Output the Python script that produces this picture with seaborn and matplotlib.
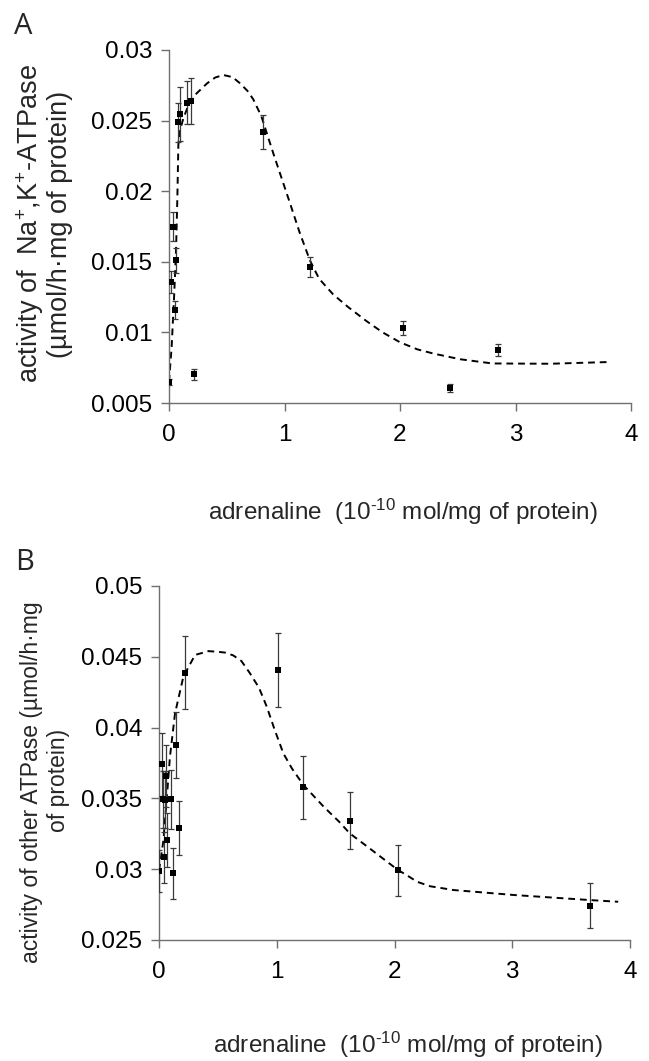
import numpy as np
import pandas as pd
import matplotlib
matplotlib.use("Agg")
import matplotlib.pyplot as plt
import seaborn as sns
from matplotlib.ticker import FormatStrFormatter, MultipleLocator

# Panel A - Na+,K+-ATPase: measured points
a_x = [0.0, 0.020, 0.032, 0.049, 0.061, 0.075, 0.095, 0.153, 0.188, 0.22, 0.817, 1.22, 2.03, 2.43, 2.845]
a_y = [0.0065, 0.01357, 0.0175, 0.01159, 0.0151, 0.02488, 0.02547, 0.02627, 0.02639, 0.00703, 0.02417, 0.01461, 0.0103, 0.00606, 0.00875]
a_err = [0.0002, 0.00077, 0.001, 0.00065, 0.00086, 0.0014, 0.0019, 0.0015, 0.0016, 0.0004, 0.0012, 0.0007, 0.0005, 0.0003, 0.0004]

# Panel A - fitted trend (dashed)
a_fit_x = [0.0, 0.023, 0.043, 0.061, 0.072, 0.081, 0.095, 0.124, 0.18, 0.21, 0.33, 0.40, 0.47, 0.55, 0.615, 0.68, 0.73, 0.80,
           0.903, 1.048, 1.13, 1.22, 1.30, 1.42, 1.55, 1.71, 1.85, 2.0, 2.15, 2.29, 2.52, 2.8, 3.3, 3.8]
a_fit_y = [0.0065, 0.009, 0.0123, 0.01583, 0.0194, 0.02327, 0.0243, 0.02515, 0.02634, 0.0267, 0.02764, 0.02805, 0.02823, 0.02808, 0.02764, 0.0271, 0.0265, 0.0253,
           0.02268, 0.01914, 0.0171, 0.0151, 0.0138, 0.0127, 0.0118, 0.0108, 0.0100, 0.0093, 0.0088, 0.0085, 0.0081, 0.0078, 0.00778, 0.0079]

# Panel B - other ATPase: measured points
b_x = [0.0, 0.023, 0.037, 0.045, 0.048, 0.056, 0.068, 0.099, 0.122, 0.144, 0.173, 0.218, 1.013, 1.22, 1.625, 2.03, 3.663]
b_y = [0.02987, 0.03741, 0.03493, 0.03083, 0.0349, 0.03658, 0.03206, 0.03494, 0.0297, 0.03877, 0.03289, 0.04388, 0.04407, 0.03578, 0.03343, 0.02994, 0.02742]
b_err = [0.0015, 0.00224, 0.002, 0.0018, 0.002, 0.0022, 0.0019, 0.0021, 0.0018, 0.0023, 0.0019, 0.0026, 0.0026, 0.0022, 0.002, 0.0018, 0.0016]

# Panel B - fitted trend (dashed)
b_fit_x = [0.0, 0.037, 0.065, 0.093, 0.136, 0.207, 0.306, 0.42, 0.49, 0.56, 0.63, 0.70, 0.773, 0.85, 0.915, 0.98, 1.056, 1.13, 1.226,
           1.4, 1.53, 1.62, 1.8, 2.03, 2.1, 2.19, 2.3, 2.5, 3.01, 3.66, 3.9]
b_fit_y = [0.0299, 0.032, 0.0349, 0.03794, 0.041, 0.0436, 0.04513, 0.0454, 0.04536, 0.0453, 0.0451, 0.0447, 0.04383, 0.0428, 0.04148, 0.0399, 0.03818, 0.0371, 0.03595,
           0.0344, 0.03335, 0.03253, 0.0314, 0.02994, 0.0296, 0.02912, 0.0288, 0.02853, 0.02818, 0.02782, 0.0277]

x_ticks = [0, 1, 2, 3, 4]

sns.set_style("ticks")
plt.rcParams['font.family'] = ['Liberation Sans', 'DejaVu Sans']
plt.rcParams['mathtext.fontset'] = 'custom'
plt.rcParams['mathtext.rm'] = 'Liberation Sans'
plt.rcParams['mathtext.it'] = 'Liberation Sans:italic'

fig = plt.figure(figsize=(6.49, 10.61), dpi=100)
ax_a = fig.add_axes([169 / 649, 1 - 403 / 1061, 462 / 649, 353 / 1061])
ax_b = fig.add_axes([159 / 649, 1 - 940 / 1061, 471 / 649, 354 / 1061])

axis_col = "#6f6f6f"


def draw_panel(ax, px, py, perr, fx, fy, ylim, ystep):
    fit = pd.DataFrame({"x": fx, "y": fy})
    sns.lineplot(data=fit, x="x", y="y", ax=ax, color="black", linewidth=1.4,
                 linestyle=(0, (3.5, 2.5)), sort=False, estimator=None)
    ax.errorbar(px, py, yerr=perr, fmt="none", ecolor="#3a3a3a", elinewidth=0.9,
                capsize=2.5, capthick=0.9, zorder=3)
    pts = pd.DataFrame({"x": px, "y": py})
    sns.scatterplot(data=pts, x="x", y="y", ax=ax, color="black", marker="s",
                    s=13, linewidth=0, zorder=4)
    ax.set_xlim(0, 4)
    ax.set_ylim(*ylim)
    ax.set_xticks(x_ticks)
    ax.yaxis.set_major_locator(MultipleLocator(ystep))
    ax.yaxis.set_major_formatter(FormatStrFormatter("%g"))
    ax.set_xlabel("")
    ax.set_ylabel("")
    ax.spines[['top', 'right']].set_visible(False)
    for s in ['left', 'bottom']:
        ax.spines[s].set_color(axis_col)
        ax.spines[s].set_linewidth(1.0)
    ax.tick_params(axis='both', direction='out', length=6, width=1.0, color=axis_col,
                   labelsize=17.5, labelcolor="black")
    ax.tick_params(axis='x', pad=9)
    ax.tick_params(axis='y', pad=6)
    ax.grid(False)


draw_panel(ax_a, a_x, a_y, a_err, a_fit_x, a_fit_y, (0.005, 0.03), 0.005)
draw_panel(ax_b, b_x, b_y, b_err, b_fit_x, b_fit_y, (0.025, 0.05), 0.005)

# Panel letters
letter_font = ["Open Sans", "DejaVu Sans"]
fig.text(23 / 649, 1 - 27 / 1061, "A", fontsize=21, ha="center", va="center", family=letter_font)
fig.text(25 / 649, 1 - 562 / 1061, "B", fontsize=21, ha="center", va="center", family=letter_font)

# Y labels
fig.text(30 / 649, 1 - 224 / 1061, "activity of  Na$^{+}$,K$^{+}$-ATPase",
         rotation=90, fontsize=19.5, ha="center", va="center")
fig.text(60 / 649, 1 - 224 / 1061, "(µmol/h·mg of protein)",
         rotation=90, fontsize=19.5, ha="center", va="center")
fig.text(32 / 649, 1 - 782 / 1061, "activity of other ATPase (µmol/h·mg",
         rotation=90, fontsize=16.5, ha="center", va="center")
fig.text(59 / 649, 1 - 780 / 1061, "of protein)",
         rotation=90, fontsize=16.5, ha="center", va="center")

# X labels (hyphen U+2010 keeps the short dash of the original)
x_label = "adrenaline  (10$^{\u201010}$ mol/mg of protein)"
fig.text(403 / 649, 1 - 512 / 1061, x_label, fontsize=17.5, ha="center", va="center")
fig.text(408 / 649, 1 - 1045 / 1061, x_label, fontsize=17.5, ha="center", va="center")

fig.savefig("out.png", dpi=100, facecolor="white")
